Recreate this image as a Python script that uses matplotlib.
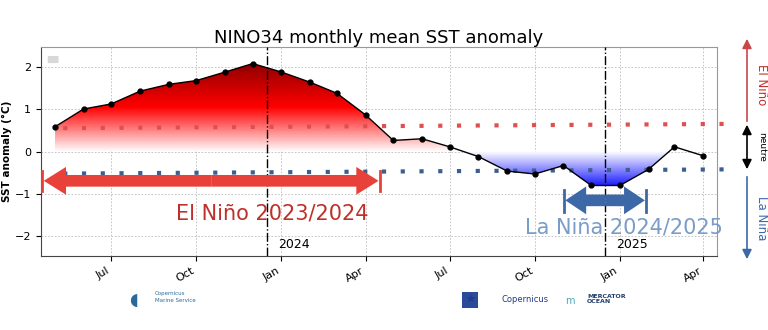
import numpy as np
import pandas as pd
import matplotlib
matplotlib.use("Agg")
import matplotlib.pyplot as plt
import matplotlib.dates as mdates
from matplotlib.colors import LinearSegmentedColormap
from matplotlib.patches import FancyArrowPatch, FancyBboxPatch

# ---------------- data ----------------
months = pd.date_range("2023-05-01", "2025-04-01", freq="MS")
sst_anom = [0.58, 1.00, 1.12, 1.42, 1.58, 1.67, 1.87, 2.07, 1.87, 1.63, 1.37, 0.86,
            0.26, 0.30, 0.11, -0.12, -0.46, -0.53, -0.33, -0.80, -0.80, -0.42, 0.11, -0.10]
thr_dates = ["2023-05-10", "2025-05-01"]
thr_nino = [0.55, 0.65]
thr_nina = [-0.52, -0.42]
year_lines = ["2023-12-16", "2024-12-16"]
year_labels = ["2024", "2025"]
nino_event = ["2023-04-17", "2024-04-17"]
nina_event = ["2024-11-02", "2025-01-29"]

# ---------------- figure ----------------
fig = plt.figure(figsize=(7.68, 3.30), dpi=100)
ax = fig.add_axes([0.0534, 0.2242, 0.8802, 0.6334])

x = mdates.date2num(months)
y = np.array(sst_anom)

ax.set_xlim(mdates.date2num(pd.Timestamp("2023-04-16")), mdates.date2num(pd.Timestamp("2025-04-16")))
ax.set_ylim(-2.46, 2.46)

# gradient fills
red_cmap = LinearSegmentedColormap.from_list("r", [(0, "#ffffff"), (0.5, "#ff0000"), (1.0, "#8c0000")])
blue_cmap = LinearSegmentedColormap.from_list("b", [(0, "#1a1aff"), (1.0, "#ffffff")])

fill_pos = ax.fill_between(x, 0, y, where=y >= 0, interpolate=True, color="none", lw=0)
fill_neg = ax.fill_between(x, 0, y, where=y <= 0, interpolate=True, color="none", lw=0)
grad = np.linspace(0, 1, 256).reshape(-1, 1)
im1 = ax.imshow(grad, cmap=red_cmap, origin="lower", aspect="auto",
                extent=[x[0], x[-1], 0, 2.1], zorder=1)
im1.set_clip_path(fill_pos.get_paths()[0], transform=ax.transData)
im2 = ax.imshow(grad, cmap=blue_cmap, origin="lower", aspect="auto",
                extent=[x[0], x[-1], -0.82, 0], zorder=1)
im2.set_clip_path(fill_neg.get_paths()[0], transform=ax.transData)

# grid
ax.grid(True, color="#bbbbbb", linestyle=(0, (2, 2)), lw=0.6)
ax.set_axisbelow(True)

# threshold lines
td = mdates.date2num(pd.to_datetime(thr_dates))
ax.plot(td, thr_nino, color="#e05050", ls=(0, (1, 3.5)), lw=3, zorder=2, clip_on=False)
ax.plot(td, thr_nina, color="#3d5f8f", ls=(0, (1, 3.5)), lw=3, zorder=2, clip_on=False)

# data
ax.plot(x, y, color="black", lw=1, marker="o", ms=3.5, zorder=4)

# year lines
for d, lab in zip(year_lines, year_labels):
    xd = mdates.date2num(pd.Timestamp(d))
    ax.axvline(xd, color="black", ls="-.", lw=1, zorder=3)
    ax.text(xd + 12, -2.2, lab, fontsize=9, ha="left", va="center")


def double_arrow(x0, x1, yv, color, ms=20, hl=0.8):
    mid = 0.5 * (x0 + x1)
    style = f"simple,head_length={hl},head_width=1.0,tail_width=0.42"
    for end in (x0, x1):
        ax.add_patch(FancyArrowPatch((mid, yv), (end, yv), arrowstyle=style,
                                     mutation_scale=ms, lw=0, color=color, zorder=5,
                                     shrinkA=0, shrinkB=0))


# event arrows
ne = mdates.date2num(pd.to_datetime(nino_event))
double_arrow(ne[0] + 2, ne[1] - 2, -0.69, "#e8413a", ms=20)
for xe in ne:
    ax.plot([xe, xe], [-0.46, -0.92], color="#e8413a", lw=2, zorder=5, clip_on=False)
ax.text(mdates.date2num(pd.Timestamp("2024-01-01")) - 10, -1.45, "El Niño 2023/2024", fontsize=15,
        color="#c0302a", ha="center", va="center", zorder=6)

na = mdates.date2num(pd.to_datetime(nina_event))
double_arrow(na[0] + 1, na[1] - 1, -1.15, "#3d68a8", ms=20, hl=0.75)
for xe in na:
    ax.plot([xe, xe], [-0.9, -1.42], color="#3d68a8", lw=2, zorder=5)
ax.text(mdates.date2num(pd.Timestamp("2025-01-05")), -1.78, "La Niña 2024/2025", fontsize=15,
        color="#7a9cc8", ha="center", va="center", zorder=6)

# empty legend box
ax.add_patch(FancyBboxPatch((0.012, 0.925), 0.012, 0.03, boxstyle="round,pad=0.002",
                            transform=ax.transAxes, color="#d8d8d8", lw=0))

# axes formatting
ax.xaxis.set_major_locator(mdates.MonthLocator(bymonth=[1, 4, 7, 10]))
ax.xaxis.set_major_formatter(mdates.DateFormatter("%b"))
for lbl in ax.get_xticklabels():
    lbl.set_rotation(30)
    lbl.set_ha("right")
ax.tick_params(labelsize=8)
ax.set_yticks([-2, -1, 0, 1, 2])
ax.set_ylabel("SST anomaly (°C)", fontsize=7.5, fontweight="bold")
ax.yaxis.set_label_coords(-0.043, 0.5)
for s in ax.spines.values():
    s.set_color("#999999")
ax.spines["bottom"].set_color("#444444")
ax.spines["left"].set_color("#444444")
ax.set_title("NINO34 monthly mean SST anomaly", fontsize=13, pad=3)

# right-side regime arrows (figure coords)
def fy(py):
    return 1 - py / 330.0
xa = 747 / 768
fig.add_artist(FancyArrowPatch((xa, fy(124)), (xa, fy(36)), transform=fig.transFigure,
                               arrowstyle="-|>", mutation_scale=14, lw=1.2, color="#c8484a"))
fig.add_artist(FancyArrowPatch((xa, fy(122)), (xa, fy(172)), transform=fig.transFigure,
                               arrowstyle="<|-|>", mutation_scale=14, lw=1.2, color="black"))
fig.add_artist(FancyArrowPatch((xa, fy(174)), (xa, fy(262)), transform=fig.transFigure,
                               arrowstyle="-|>", mutation_scale=14, lw=1.2, color="#3d68a8"))
fig.text(762 / 768, fy(85), "El Niño", rotation=-90, color="#c0302a", fontsize=8.5, ha="center", va="center")
fig.text(762 / 768, fy(147), "neutre", rotation=-90, color="black", fontsize=6.5, ha="center", va="center")
fig.text(762 / 768, fy(218), "La Niña", rotation=-90, color="#3d68a8", fontsize=8.5, ha="center", va="center")

# logo placeholders (as text)
fig.text(155 / 768, fy(297), "Copernicus\nMarine Service", fontsize=4, color="#2a6a9a", va="center", linespacing=1.6)
fig.text(133 / 768, fy(300), "◖", fontsize=12, color="#2a6a9a", va="center", ha="center")
fig.text(470 / 768, fy(300), "★", fontsize=8, color="#1f3c8a", va="center", ha="center",
         bbox=dict(boxstyle="square,pad=0.3", fc="#2a4a9a", ec="none"))
fig.text(525 / 768, fy(300), "Copernicus", fontsize=6, color="#1f3c8a", va="center", ha="center")
fig.text(587 / 768, fy(299), "MERCATOR\nOCEAN", fontsize=4.5, color="#1f3c6a", fontweight="bold",
         va="center", ha="left", linespacing=0.9)
fig.text(570 / 768, fy(301), "m", fontsize=7, color="#4aa8b8", va="center", ha="center")

fig.savefig("out.png", dpi=100)
